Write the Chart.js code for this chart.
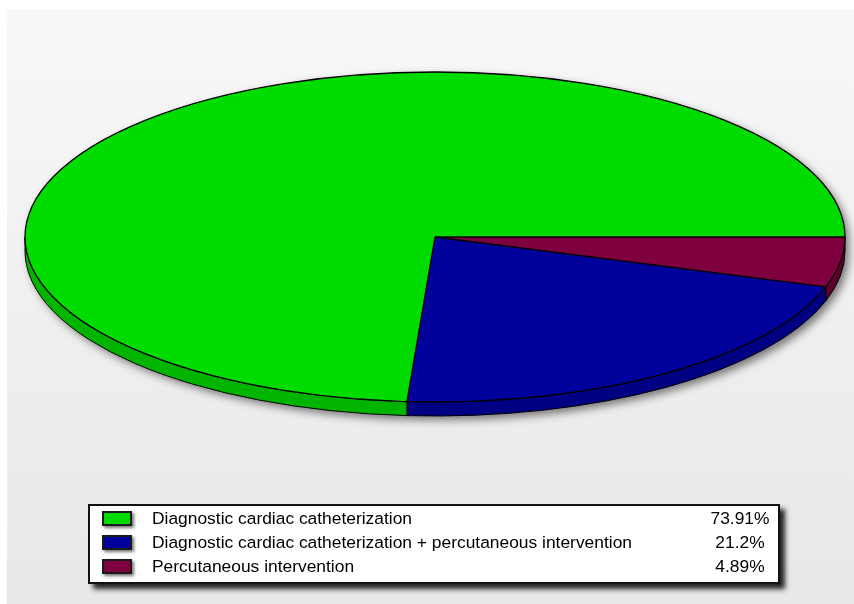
<!DOCTYPE html>
<html>
<head>
<meta charset="utf-8">
<script src="https://cdn.jsdelivr.net/npm/chart.js@4/dist/chart.umd.min.js"></script>
<style>
  html, body { margin: 0; padding: 0; background: #ffffff; }
  #wrap { position: relative; width: 854px; height: 604px; overflow: hidden; }
  #panel { position: absolute; left: 7px; top: 9px; right: 0; bottom: 0;
           background: linear-gradient(to bottom, #f8f8f8 0%, #eeeeee 60%, #e8e8e8 100%); }
  #c { position: absolute; left: 0; top: 0; }
  #legend { position: absolute; left: 88px; top: 504px; width: 692px; height: 80px; box-sizing: border-box;
            border: 2px solid #111; background: #ffffff;
            box-shadow: 5px 5px 5px rgba(0,0,0,0.85);
            font-family: "Liberation Sans", Arial, sans-serif; font-size: 17.4px; color: #000; }
  .row { position: absolute; left: 0; height: 24px; width: 100%; }
  .sw { position: absolute; left: 12px; top: 3px; width: 30px; height: 15px; box-sizing: border-box;
        border: 2px solid #1a1a1a; box-shadow: 2px 2px 3px rgba(0,0,0,0.55); }
  .lab { position: absolute; left: 62px; top: 0px; line-height: 20px; white-space: nowrap; }
  .pct { position: absolute; left: 600px; width: 100px; text-align: center; top: 0px; line-height: 20px; }
</style>
</head>
<body>
<div id="wrap">
  <div id="panel"></div>
  <canvas id="c" width="854" height="604"></canvas>
  <div id="legend"></div>
</div>
<script>
// ---- data ----
const categories = [
  "Diagnostic cardiac catheterization",
  "Diagnostic cardiac catheterization + percutaneous intervention",
  "Percutaneous intervention"
];
const values = [73.91, 21.2, 4.89];
const topColors = ["#00dc00", "#00009a", "#7f003f"];
const sideColors = ["#00b400", "#000082", "#5c002d"];

// ---- layout of the flattened pie (screen px) ----
const CX = 435, CY = 237, RX = 410, RY = 165, DEPTH = 14;

// slices run clockwise from 3 o'clock in reverse legend order
const chartLabels = categories.slice().reverse();
const chartValues = values.slice().reverse();
const chartTop = topColors.slice().reverse();
const chartSide = sideColors.slice().reverse();

function frontIntervals(a, b) {
  const out = [];
  for (let k = -2; k <= 2; k++) {
    const lo = Math.max(a, 2 * Math.PI * k), hi = Math.min(b, 2 * Math.PI * k + Math.PI);
    if (hi > lo) out.push([lo, hi]);
  }
  return out;
}
function ex(t) { return CX + RX * Math.cos(t); }
function ey(t) { return CY + RY * Math.sin(t); }

const pie3d = {
  id: 'pie3d',
  beforeDatasetsDraw(chart) {
    const ctx = chart.ctx;
    const arcs = chart.getDatasetMeta(0).data;
    // drop shadow of the whole disc
    ctx.save();
    ctx.shadowColor = 'rgba(0,0,0,0.5)';
    ctx.shadowBlur = 8;
    ctx.shadowOffsetX = 4;
    ctx.shadowOffsetY = 4;
    ctx.fillStyle = '#808080';
    ctx.beginPath();
    ctx.ellipse(CX, CY, RX, RY, 0, Math.PI, 2 * Math.PI);
    ctx.lineTo(CX + RX, CY + DEPTH);
    ctx.ellipse(CX, CY + DEPTH, RX, RY, 0, 0, Math.PI);
    ctx.closePath();
    ctx.fill();
    ctx.restore();
    // side walls
    ctx.save();
    ctx.lineWidth = 1;
    ctx.strokeStyle = '#000';
    arcs.forEach((arc, i) => {
      frontIntervals(arc.startAngle, arc.endAngle).forEach(([lo, hi]) => {
        ctx.beginPath();
        ctx.ellipse(CX, CY, RX, RY, 0, lo, hi);
        ctx.lineTo(ex(hi), ey(hi) + DEPTH);
        ctx.ellipse(CX, CY + DEPTH, RX, RY, 0, hi, lo, true);
        ctx.closePath();
        ctx.fillStyle = chartSide[i];
        ctx.fill();
        ctx.stroke();
      });
    });
    ctx.restore();
    // map the library's circle onto the ellipse
    const a0 = arcs[0];
    const R = a0.outerRadius;
    const sx = RX / R, sy = RY / R;
    ctx.save();
    ctx.setTransform(sx, 0, 0, sy, CX - sx * a0.x, CY - sy * a0.y);
  },
  afterDatasetsDraw(chart) {
    const ctx = chart.ctx;
    ctx.restore();
    const arcs = chart.getDatasetMeta(0).data;
    ctx.save();
    ctx.lineWidth = 1.3;
    ctx.strokeStyle = '#000';
    ctx.beginPath();
    ctx.ellipse(CX, CY, RX, RY, 0, 0, 2 * Math.PI);
    ctx.stroke();
    arcs.forEach(arc => {
      ctx.beginPath();
      ctx.moveTo(CX, CY);
      ctx.lineTo(ex(arc.startAngle), ey(arc.startAngle));
      ctx.stroke();
    });
    ctx.restore();
  }
};

new Chart(document.getElementById('c'), {
  type: 'pie',
  data: {
    labels: chartLabels,
    datasets: [{
      data: chartValues,
      backgroundColor: chartTop,
      borderWidth: 0,
      clip: false
    }]
  },
  options: {
    responsive: false,
    animation: false,
    rotation: 90,
    layout: { padding: 0 },
    events: [],
    plugins: { legend: { display: false }, tooltip: { enabled: false } }
  },
  plugins: [pie3d]
});

// ---- legend ----
const legend = document.getElementById('legend');
categories.forEach((name, i) => {
  const row = document.createElement('div');
  row.className = 'row';
  row.style.top = (1.5 + i * 24) + 'px';
  row.innerHTML = '<div class="sw" style="background:' + topColors[i] + '"></div>' +
    '<div class="lab"></div><div class="pct"></div>';
  row.querySelector('.lab').textContent = name;
  row.querySelector('.pct').textContent = values[i] + '%';
  legend.appendChild(row);
});
</script>
</body>
</html>
